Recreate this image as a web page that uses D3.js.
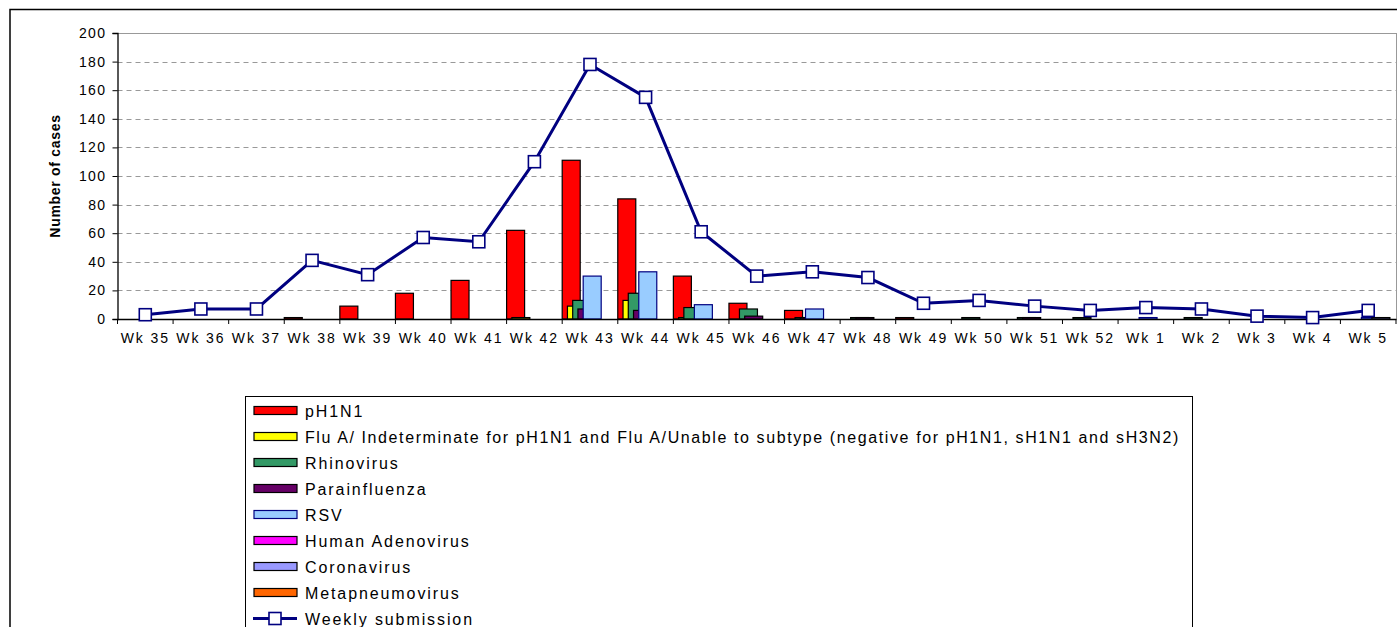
<!DOCTYPE html>
<html><head><meta charset="utf-8">
<script src="https://cdn.jsdelivr.net/npm/d3@7"></script>
<style>body{margin:0;background:#fff;}svg{display:block;font-family:"Liberation Sans",Arial,sans-serif;}</style>
</head><body>
<script>
const weeks = ["Wk 35","Wk 36","Wk 37","Wk 38","Wk 39","Wk 40","Wk 41","Wk 42","Wk 43","Wk 44","Wk 45","Wk 46","Wk 47","Wk 48","Wk 49","Wk 50","Wk 51","Wk 52","Wk 1","Wk 2","Wk 3","Wk 4","Wk 5"];
const seriesNames = ["pH1N1","Flu A/ Indeterminate for pH1N1 and Flu A/Unable to subtype (negative for pH1N1, sH1N1 and sH3N2)","Rhinovirus","Parainfluenza","RSV","Human Adenovirus","Coronavirus","Metapneumovirus"];
const seriesColors = ["#FF0000","#FFFF00","#339966","#660066","#99CCFF","#FF00FF","#9999FF","#FF6600"];
const seriesStrokes = ["#000","#000","#000","#000","#000080","#000","#000","#000"];
const pH1N1 =        [0,0,0,1,9,18,27,62,111,84,30,11,6,0,1,0,0,0,0,0,0,0,0];
const fluA =         [0,0,0,0,0,0,0,1,9,13,1,0,0,0,0,0,0,0,0,0,0,0,0];
const rhinovirus =   [0,0,0,0,0,0,0,0,13,18,8,7,1,1,0,1,1,1,0,1,0,0,0];
const parainfluenza =[0,0,0,0,0,0,0,0,7,6,0,2,1,1,0,0,1,0,0,0,0,0,0];
const rsv =          [0,0,0,0,0,0,0,0,30,33,10,0,7,0,0,0,0,0,1,0,0,0,1];
const adenovirus =   [0,0,0,0,0,0,0,0,0,0,0,0,0,0,0,0,0,0,0,0,0,0,0];
const coronavirus =  [0,0,0,0,0,0,0,0,0,0,0,0,0,0,0,0,0,0,0,0,0,0,1];
const metapneumo =   [0,0,0,0,0,0,0,0,0,0,0,0,0,0,0,0,0,0,0,0,0,0,0];
const weekly =       [3,7,7,41,31,57,54,110,178,155,61,30,33,29,11,13,9,6,8,7,2,1,6];
const yTicks = [0,20,40,60,80,100,120,140,160,180,200];
const seriesValues = [pH1N1,fluA,rhinovirus,parainfluenza,rsv,adenovirus,coronavirus,metapneumo];

const W=1397,H=627;
const svg=d3.select("body").append("svg").attr("width",W).attr("height",H);
const X0=117.5,X1=1396,Y0=33,Y1=319;
svg.append("rect").attr("x",10).attr("y",9.5).attr("width",W+20).attr("height",H+20).attr("fill","none").attr("stroke","#000").attr("stroke-width",1.5);

const x=d3.scaleBand().domain(weeks).range([X0,X1]).padding(0);
const y=d3.scaleLinear().domain([0,200]).range([Y1,Y0]);
const cw=x.bandwidth();
const step=cw*5.25/55.6, bw=cw*18/55.6;

svg.append("g").selectAll("line").data(yTicks.filter(t=>t>0)).join("line")
  .attr("x1",X0).attr("x2",X1).attr("y1",d=>Math.round(y(d))+0.5).attr("y2",d=>Math.round(y(d))+0.5)
  .attr("stroke","#999").attr("stroke-width",1).attr("stroke-dasharray",d=>d===200?null:"5,4");
svg.append("line").attr("x1",X1+0.5).attr("x2",X1+0.5).attr("y1",Y0).attr("y2",Y1).attr("stroke","#999");

seriesValues.forEach((vals,i)=>{
  svg.append("g").selectAll("rect").data(weeks.map((w,j)=>({w,v:vals[j]})).filter(d=>d.v>0)).join("rect")
    .attr("x",d=>x(d.w)+i*step).attr("width",bw)
    .attr("y",d=>y(d.v)).attr("height",d=>Y1-y(d.v))
    .attr("fill",seriesColors[i]).attr("stroke",seriesStrokes[i]).attr("stroke-width",1.2);
});

const yAxis=svg.append("g").attr("transform",`translate(${X0},0)`).call(d3.axisLeft(y).tickValues(yTicks).tickSize(5).tickPadding(6));
const xAxis=svg.append("g").attr("transform",`translate(0,${Y1})`).call(d3.axisBottom(x).tickSize(0).tickPadding(13));
[yAxis,xAxis].forEach(a=>{a.select(".domain").attr("stroke","#000").attr("stroke-width",1.3);a.selectAll("text").attr("font-family","Liberation Sans, Arial").attr("font-size",14).attr("fill","#000").style("letter-spacing","1.4px");a.selectAll(".tick line").attr("stroke","#000");});
xAxis.selectAll("text").attr("dy","0.8em").style("letter-spacing","1.9px");
svg.append("g").selectAll("line").data(weeks.concat(["end"])).join("line")
  .attr("x1",(d,i)=>X0+i*cw).attr("x2",(d,i)=>X0+i*cw).attr("y1",Y1).attr("y2",Y1+5).attr("stroke","#000");

svg.append("text").attr("transform","translate(60,176) rotate(-90)").attr("text-anchor","middle")
  .attr("font-size",14).attr("font-weight","bold").style("letter-spacing","0.7px").text("Number of cases");

const line=d3.line().x((d,i)=>x(weeks[i])+cw/2).y(d=>y(d));
svg.append("path").datum(weekly).attr("d",line).attr("fill","none").attr("stroke","#000080").attr("stroke-width",3);
svg.append("g").selectAll("rect").data(weekly).join("rect")
  .attr("x",(d,i)=>x(weeks[i])+cw/2-6).attr("y",d=>y(d)-6).attr("width",12).attr("height",12)
  .attr("fill","#fff").attr("stroke","#000080").attr("stroke-width",1.6);

const lg=svg.append("g");
lg.append("rect").attr("x",245.5).attr("y",396.5).attr("width",947).attr("height",260).attr("fill","#fff").attr("stroke","#000").attr("stroke-width",1);
const ly0=410.5, ld=26;
seriesNames.forEach((n,i)=>{
  const cy=ly0+i*ld;
  lg.append("rect").attr("x",254).attr("y",cy-4).attr("width",43).attr("height",8).attr("fill",seriesColors[i]).attr("stroke",seriesStrokes[i]).attr("stroke-width",1.2);
  lg.append("text").attr("x",305).attr("y",cy+6).attr("font-size",16).style("letter-spacing",i===1?"1.6px":"1.9px").text(n);
});
{
  const cy=ly0+8*ld;
  lg.append("line").attr("x1",253).attr("x2",297).attr("y1",cy).attr("y2",cy).attr("stroke","#000080").attr("stroke-width",3);
  lg.append("rect").attr("x",269).attr("y",cy-6).attr("width",12).attr("height",12).attr("fill","#fff").attr("stroke","#000080").attr("stroke-width",1.6);
  lg.append("text").attr("x",305).attr("y",cy+6).attr("font-size",16).style("letter-spacing","1.9px").text("Weekly submission");
}
</script>
</body></html>
